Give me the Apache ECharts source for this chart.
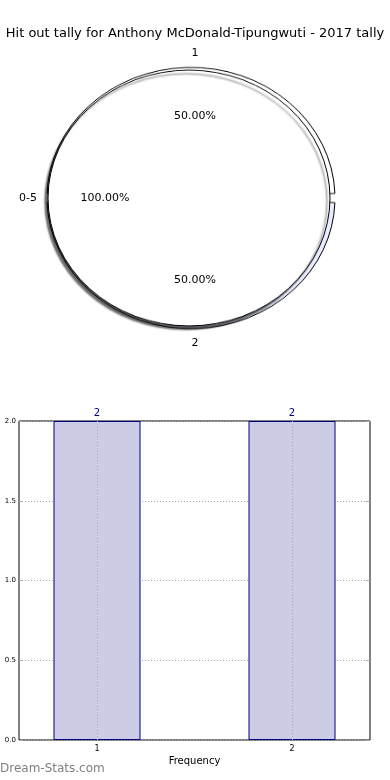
<!DOCTYPE html>
<html><head><meta charset="utf-8">
<script src="https://cdn.jsdelivr.net/npm/echarts@6/dist/echarts.min.js"></script>
<style>
html,body{margin:0;padding:0;background:#fff;}
#pie{position:absolute;left:0;top:0;width:390px;height:400px;transform:scaleY(0.907);transform-origin:195px 198px;}
#main{position:absolute;left:0;top:0;width:390px;height:780px;}
</style></head>
<body>
<div id="pie"></div>
<div id="main"></div>
<script>
const titleText = 'Hit out tally for Anthony McDonald-Tipungwuti - 2017 tally';
const innerNames = ['0-5'];
const innerValues = [2];
const outerNames = ['1', '2'];
const outerValues = [1, 1];
const outerColors = ['#ffffff', '#e8eeff'];
const barCats = [1, 2];
const barValues = [2, 2];

const font = 'DejaVu Sans';
const cx = 189, cy = 198;

// shapes (scaled to ellipse)
const pie = echarts.init(document.getElementById('pie'), null, {renderer: 'canvas'});
pie.setOption({
  animation: false,
  series: [
    {
      type: 'pie', center: [cx + 2, cy], radius: [0, 144], startAngle: 0, clockwise: false,
      padAngle: 4, silent: true, label: {show: false}, labelLine: {show: false},
      data: outerNames.map((n, i) => ({name: n, value: outerValues[i],
        itemStyle: {color: outerColors[i], borderColor: '#000', borderWidth: 1}}))
    },
    {
      type: 'pie', center: [cx, cy], radius: [0, 141], startAngle: 0, clockwise: false,
      silent: true, label: {show: false}, labelLine: {show: false},
      data: innerNames.map((n, i) => ({name: n, value: innerValues[i],
        itemStyle: {color: '#ffffff', borderColor: '#000', borderWidth: 1,
          shadowColor: 'rgba(0,0,0,0.6)', shadowBlur: 2, shadowOffsetX: -3, shadowOffsetY: 4}}))
    }
  ]
});

// labels + bar chart (unscaled)
const chart = echarts.init(document.getElementById('main'), null, {renderer: 'canvas'});
const lbl = {fontFamily: font, fontSize: 11, color: '#000'};
const sumOuter = outerValues.reduce((a, b) => a + b, 0);
const sumInner = innerValues.reduce((a, b) => a + b, 0);
function labelPie(names, values, centerX, radius, fmt) {
  return {
    type: 'pie', center: [centerX, cy], radius: [0, radius], startAngle: 0, clockwise: false,
    silent: true, labelLine: {show: false},
    itemStyle: {color: 'rgba(0,0,0,0)', borderWidth: 0},
    label: Object.assign({show: true, position: 'inside', formatter: fmt}, lbl),
    data: names.map((n, i) => ({name: n, value: values[i]}))
  };
}
const gridLine = {color: '#aaa', type: [1, 2]};
chart.setOption({
  animation: false,
  title: {text: titleText, left: 'center', top: 22,
    textStyle: {fontFamily: font, fontSize: 13, fontWeight: 'normal', color: '#000'}},
  graphic: [{type: 'text', left: 0, top: 763,
    style: {text: 'Dream-Stats.com', fontFamily: font, fontSize: 12, fill: '#808080'}}],
  grid: {left: 19, right: 20, top: 421, bottom: 40, show: true, borderColor: '#000', borderWidth: 1},
  xAxis: {
    type: 'value', min: 0.6, max: 2.4,
    name: 'Frequency', nameLocation: 'middle', nameGap: 16,
    nameTextStyle: {fontFamily: font, fontSize: 10, color: '#000'},
    axisLine: {show: false},
    axisTick: {show: true, customValues: barCats, inside: true, length: 4, lineStyle: {color: '#aaa'}},
    axisLabel: {customValues: barCats, fontFamily: font, fontSize: 8, color: '#000', margin: 5},
    splitLine: {show: false}
  },
  yAxis: [{
    type: 'value', min: 0, max: 2, interval: 0.5,
    axisLine: {show: false},
    axisTick: {show: true, inside: true, length: 4, lineStyle: {color: '#aaa'}},
    axisLabel: {fontFamily: font, fontSize: 7, color: '#000', margin: 3,
      formatter: v => v.toFixed(1)},
    splitLine: {show: true, lineStyle: gridLine}
  }, {
    type: 'value', min: 0, max: 2, interval: 0.5, position: 'right',
    axisLine: {show: false},
    axisTick: {show: true, inside: true, length: 4, lineStyle: {color: '#aaa'}},
    axisLabel: {show: false}, splitLine: {show: false}
  }],
  series: [
    labelPie(outerNames, outerValues, 195, 2 * 142, p => p.name),
    labelPie(outerNames, outerValues, 195, 2 * 79, p => (p.value / sumOuter * 100).toFixed(2) + '%'),
    labelPie(innerNames, innerValues, cx, 2 * 158, p => p.name),
    labelPie(innerNames, innerValues, cx, 2 * 81, p => (p.value / sumInner * 100).toFixed(2) + '%'),
    {
      type: 'bar', barWidth: 87, z: 1,
      data: barCats.map((c, i) => [c, barValues[i]]),
      itemStyle: {color: '#ccccE6', borderColor: '#000080', borderWidth: 1},
      label: {show: true, position: 'top', distance: 3, fontFamily: font, fontSize: 10, color: '#000080',
        formatter: p => String(p.value[1])},
      markLine: {silent: true, symbol: 'none', label: {show: false}, z: 3,
        lineStyle: gridLine,
        data: barCats.map(c => ({xAxis: c}))}
    }
  ]
});
</script>
</body></html>
